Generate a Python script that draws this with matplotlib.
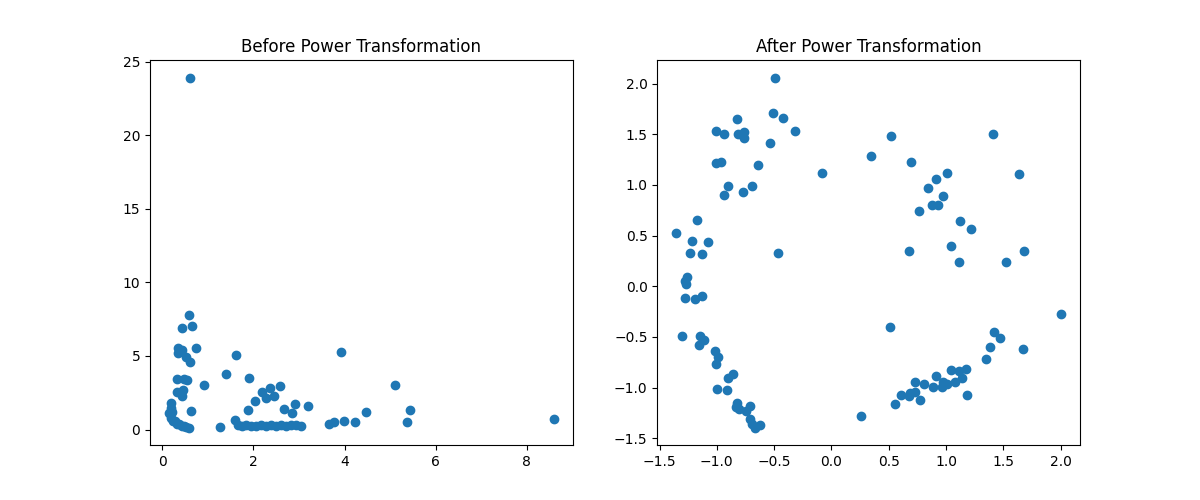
import matplotlib.pyplot as plt

# values
before_x = [0.61, 0.59, 0.44, 0.66, 0.35, 0.44, 0.35, 0.52, 0.61, 0.74,
            1.62, 3.93, 0.33, 0.48, 0.55, 1.40, 1.90, 0.92, 0.33, 0.46,
            0.42, 2.19, 2.36, 2.58, 2.27, 2.45, 2.03, 1.88, 2.67, 2.84,
            2.91, 3.19, 0.63, 0.20, 0.20, 0.15, 0.20, 0.24, 0.31, 0.42,
            0.52, 0.59, 0.22, 0.27, 0.37, 0.47, 1.27, 1.60,
            1.66, 1.75, 1.84, 1.95, 2.05, 2.16, 2.27, 2.38, 2.49, 2.60,
            2.71, 2.82, 2.93, 3.04,
            3.67, 3.78, 3.98, 4.22, 4.48, 5.11, 5.44, 5.38, 8.59]
before_y = [23.92, 7.79, 6.91, 7.05, 5.56, 5.42, 5.22, 4.95, 4.61, 5.56,
            5.08, 5.28, 3.46, 3.46, 3.39, 3.79, 3.52, 3.05, 2.57, 2.71,
            2.30, 2.57, 2.85, 2.98, 2.17, 2.30, 1.96, 1.36, 1.42, 1.15,
            1.76, 1.63, 1.29, 1.83, 1.49, 1.15, 0.81, 0.61, 0.41, 0.27,
            0.20, 0.14, 1.20, 0.55, 0.35, 0.25, 0.20, 0.68,
            0.30, 0.25, 0.28, 0.22, 0.27, 0.30, 0.24, 0.28, 0.26, 0.30,
            0.25, 0.28, 0.30, 0.24,
            0.41, 0.54, 0.61, 0.54, 1.22, 3.05, 1.36, 0.54, 0.74]

after_x = [-0.490, -0.508, -0.421, -0.821, -1.004, -0.934, -0.812, -0.760, -0.760, -0.316,
           -0.534, -1.004, -0.960, -0.638, -0.081, -0.899, -0.691, -0.934, -0.769, -1.169,
           -1.352, -1.221, -1.074, -1.230, -1.126, -0.464, -1.256, -1.282, -1.265, -1.274,
           -1.187, -1.126,
           -1.300, -1.143, -1.108, -1.152, -1.013, -0.987, -1.004, -0.856, -0.899, -0.995,
           -0.908, -0.821, -0.830, -0.804, -0.743, -0.708, -0.708, -0.691, -0.664, -0.621,
           0.519, 1.407, 0.345, 0.693, 1.007, 1.633, 0.911, 0.841, 0.972, 0.876,
           0.928, 0.763, 1.120, 1.215, 0.676, 1.041, 1.111, 1.677, 1.520,
           2.000, 0.510, 1.416, 1.468, 1.381, 1.668, 1.346, 1.041, 1.172, 1.111,
           1.137, 0.911, 0.728, 0.806, 0.885, 0.972, 0.963, 1.007, 1.076, 0.728,
           0.685, 0.606, 0.676, 0.772, 1.181, 0.554, 0.258]
after_y = [2.06, 1.71, 1.66, 1.65, 1.535, 1.505, 1.505, 1.525, 1.466, 1.535,
           1.416, 1.22, 1.23, 1.20, 1.12, 0.99, 0.99, 0.90, 0.93, 0.655,
           0.526, 0.447, 0.437, 0.328, 0.318, 0.328, 0.091, 0.051, 0.022, -0.117,
           -0.127, -0.097,
           -0.493, -0.493, -0.532, -0.58, -0.64, -0.70, -0.77, -0.868, -0.908, -1.017,
           -1.027, -1.155, -1.195, -1.215, -1.234, -1.185, -1.314, -1.363, -1.393, -1.373,
           1.486, 1.505, 1.288, 1.23, 1.12, 1.11, 1.06, 0.97, 0.89, 0.80,
           0.80, 0.744, 0.645, 0.566, 0.348, 0.398, 0.24, 0.348, 0.24,
           -0.275, -0.404, -0.453, -0.512, -0.60, -0.621, -0.72, -0.829, -0.819, -0.839,
           -0.908, -0.888, -0.948, -0.967, -0.997, -0.948, -0.997, -0.967, -0.948, -1.047,
           -1.056, -1.076, -1.086, -1.126, -1.076, -1.165, -1.284]

plt.figure(figsize=(12, 5))

plt.subplot(1, 2, 1)
plt.scatter(before_x, before_y)
plt.title('Before Power Transformation')

plt.subplot(1, 2, 2)
plt.scatter(after_x, after_y)
plt.title('After Power Transformation')

plt.savefig('out.png', dpi=100)
